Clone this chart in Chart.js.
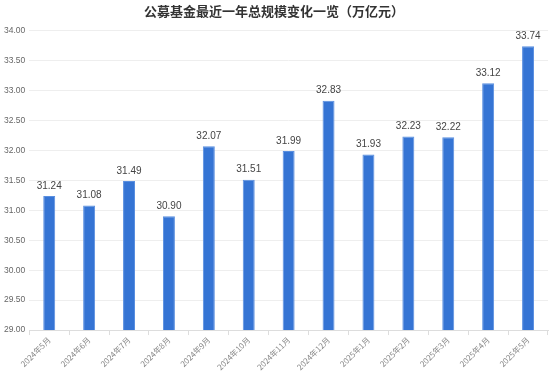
<!DOCTYPE html>
<html>
<head>
<meta charset="utf-8">
<script src="https://cdn.jsdelivr.net/npm/chart.js@4/dist/chart.umd.min.js"></script>
<style>
  html, body { margin: 0; padding: 0; background: #fff; }
  #wrap { width: 550px; height: 372px; }
</style>
</head>
<body>
<div id="wrap"><canvas id="fundChart"></canvas></div>
<script>
const months = ['2024年5月', '2024年6月', '2024年7月', '2024年8月', '2024年9月', '2024年10月',
                '2024年11月', '2024年12月', '2025年1月', '2025年2月', '2025年3月', '2025年4月', '2025年5月'];
const totals = [31.24, 31.08, 31.49, 30.90, 32.07, 31.51, 31.99, 32.83, 31.93, 32.23, 32.22, 33.12, 33.74];

// values printed over each bar
const valueLabels = {
    id: 'valueLabels',
    afterDatasetsDraw(chart) {
        const c = chart.ctx;
        const meta = chart.getDatasetMeta(0);
        c.save();
        c.font = '10px "Liberation Sans", Arial, sans-serif';
        c.fillStyle = '#444';
        c.textAlign = 'center';
        c.textBaseline = 'bottom';
        meta.data.forEach(function(bar, i) {
            c.fillText(totals[i].toFixed(2), bar.x, bar.y - 5);
        });
        c.restore();
    }
};

const ctx = document.getElementById('fundChart').getContext('2d');
const myChart = new Chart(ctx, {
    type: 'bar',
    data: {
        labels: months,
        datasets: [{
            label: '总规模',
            data: totals,
            backgroundColor: '#3574d4',
            borderColor: '#5a8fe0',
            borderWidth: 1,
            barPercentage: 0.3,
            categoryPercentage: 1
        }]
    },
    options: {
        responsive: true,
        maintainAspectRatio: false,
        animation: false,
        layout: { padding: { left: 0, right: 2, top: 0, bottom: 0 } },
        plugins: {
            legend: { display: false },
            tooltip: { enabled: false },
            title: {
                display: true,
                text: '公募基金最近一年总规模变化一览（万亿元）',
                color: '#333',
                font: { size: 13, weight: 'bold', family: '"Noto Sans CJK SC", sans-serif' },
                padding: { top: 3, bottom: 12 }
            }
        },
        scales: {
            x: {
                grid: { display: true, drawOnChartArea: false, color: '#ddd', tickLength: 5 },
                border: { color: '#ddd' },
                ticks: {
                    color: '#888',
                    padding: 0,
                    font: { size: 8, family: '"Noto Sans CJK SC", sans-serif' },
                    minRotation: 45,
                    maxRotation: 45,
                    autoSkip: false
                }
            },
            y: {
                min: 29,
                max: 34,
                grid: { color: '#eee', drawTicks: false },
                border: { display: false },
                ticks: {
                    stepSize: 0.5,
                    color: '#666',
                    padding: 4,
                    font: { size: 8.5, family: '"Liberation Sans", Arial, sans-serif' },
                    callback: function(v) { return v.toFixed(2); }
                }
            }
        }
    },
    plugins: [valueLabels]
});
</script>
</body>
</html>
